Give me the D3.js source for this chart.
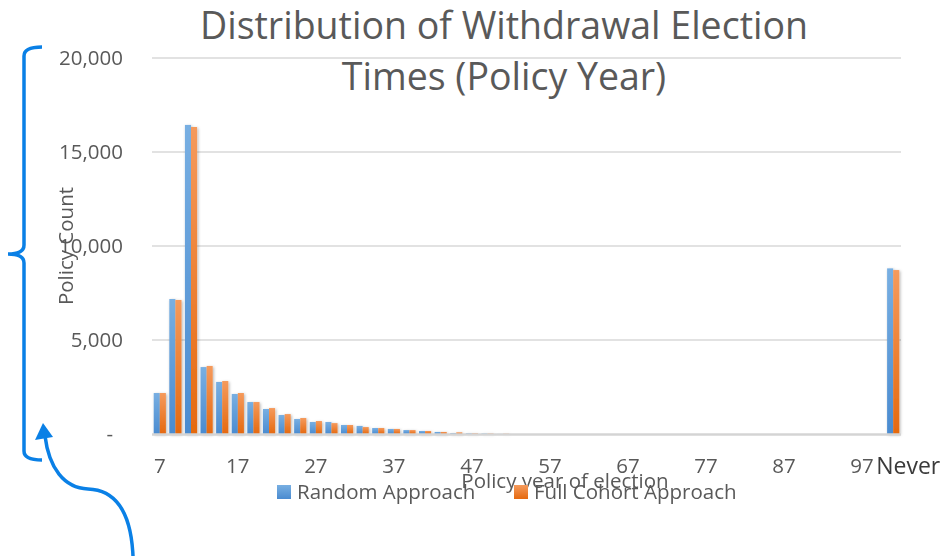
<!DOCTYPE html>
<html>

<head>
    <meta charset="utf-8">
    <style>
        body {
            margin: 0;
            background: #fff;
        }

        svg {
            display: block;
            font-family: 'Open Sans', 'DejaVu Sans', sans-serif;
        }

        .axis text {
            fill: #595959;
            font-size: 20.5px;
        }

        .label {
            fill: #595959;
            font-size: 20.5px;
        }
    </style>
</head>

<body>
    <svg width="942" height="556"></svg>

    <script src="https://d3js.org/d3.v7.min.js"></script>

    <script>
        // policy year of election (every other year) plus the "Never" bucket
        const categories = ["7", "9", "11", "13", "15", "17", "19", "21", "23", "25",
            "27", "29", "31", "33", "35", "37", "39", "41", "43", "45",
            "47", "49", "51", "53", "55", "57", "59", "61", "63", "65",
            "67", "69", "71", "73", "75", "77", "79", "81", "83", "85",
            "87", "89", "91", "93", "95", "97", "99", "Never"]

        const randomApproach = [2180, 7180, 16440, 3560, 2770, 2130, 1700, 1330, 1010, 800,
            640, 640, 480, 430, 320, 270, 210, 160, 110, 50,
            40, 30, 5, 0, 0, 0, 0, 0, 0, 0,
            0, 0, 0, 0, 0, 0, 0, 0, 0, 0,
            0, 0, 0, 0, 0, 0, 0, 8810]

        const fullCohort = [2180, 7130, 16330, 3620, 2820, 2180, 1700, 1380, 1060, 850,
            690, 580, 480, 370, 320, 270, 210, 160, 110, 90,
            40, 30, 20, 0, 0, 0, 0, 0, 0, 0,
            0, 0, 0, 0, 0, 0, 0, 0, 0, 0,
            0, 0, 0, 0, 0, 0, 0, 8720]

        const seriesNames = ["Random Approach", "Full Cohort Approach"]
        const xTickLabels = ["7", "17", "27", "37", "47", "57", "67", "77", "87", "97", "Never"]
        const yTicks = [0, 5000, 10000, 15000, 20000]
        const titleLines = ["Distribution of Withdrawal Election", "Times (Policy Year)"]

        let svg = d3.select("svg")

        let plotLeft = 152, plotRight = 901, plotTop = 58, plotBottom = 434

        let x = d3.scaleBand()
            .domain(categories)
            .range([plotLeft, plotRight])
            .paddingInner(0.22)
            .paddingOuter(0.11)

        let xSeries = d3.scaleBand()
            .domain(seriesNames)
            .range([0, x.bandwidth()])

        let y = d3.scaleLinear()
            .domain([0, 20000])
            .range([plotBottom, plotTop])

        // gradients + soft shadow like the office chart
        let defs = svg.append("defs")
        let grads = [
            { id: "g-blue", a: "#78afe2", b: "#4a8bd0" },
            { id: "g-orange", a: "#f59a5c", b: "#e5690f" }
        ]
        grads.forEach(g => {
            let lg = defs.append("linearGradient")
                .attr("id", g.id)
                .attr("x1", 0).attr("y1", 0).attr("x2", 0).attr("y2", 1)
            lg.append("stop").attr("offset", "0%").attr("stop-color", g.a)
            lg.append("stop").attr("offset", "100%").attr("stop-color", g.b)
        })
        defs.append("filter")
            .attr("id", "shadow")
            .attr("x", "-50%").attr("y", "-10%").attr("width", "200%").attr("height", "120%")
            .append("feDropShadow")
            .attr("dx", 1).attr("dy", 1)
            .attr("stdDeviation", 1.6)
            .attr("flood-color", "#000")
            .attr("flood-opacity", 0.3)

        let color = d3.scaleOrdinal()
            .domain(seriesNames)
            .range(["url(#g-blue)", "url(#g-orange)"])

        // gridlines
        svg.append("g")
            .selectAll("line")
            .data(yTicks.filter(d => d > 0))
            .join("line")
            .attr("x1", plotLeft)
            .attr("x2", plotRight)
            .attr("y1", d => y(d))
            .attr("y2", d => y(d))
            .attr("stroke", "#d9d9d9")
            .attr("stroke-width", 1.5)

        // bars
        let rows = categories.map((c, i) => ({
            cat: c,
            values: [
                { name: seriesNames[0], value: randomApproach[i] },
                { name: seriesNames[1], value: fullCohort[i] }
            ]
        }))

        svg.append("g")
            .attr("filter", "url(#shadow)")
            .selectAll("g")
            .data(rows)
            .join("g")
            .attr("transform", d => `translate(${x(d.cat)},0)`)
            .selectAll("rect")
            .data(d => d.values.filter(v => v.value > 0))
            .join("rect")
            .attr("x", d => xSeries(d.name))
            .attr("width", xSeries.bandwidth())
            .attr("y", d => y(d.value))
            .attr("height", d => y(0) - y(d.value))
            .attr("fill", d => color(d.name))

        // category axis line
        svg.append("line")
            .attr("x1", plotLeft)
            .attr("x2", plotRight)
            .attr("y1", y(0) + 0.5)
            .attr("y2", y(0) + 0.5)
            .attr("stroke", "#d4d4d4")
            .attr("stroke-width", 2.5)

        // y axis labels
        let yAxis = svg.append("g")
            .attr("class", "axis")
            .attr("transform", `translate(${plotLeft},0)`)
            .call(d3.axisLeft(y)
                .tickValues(yTicks)
                .tickSize(0)
                .tickPadding(29)
                .tickFormat(d => d === 0 ? "-" : d3.format(",")(d)))
        yAxis.select(".domain").remove()
        yAxis.attr("font-family", null).attr("font-size", null)
        yAxis.selectAll(".tick").filter(d => d === 0).select("text").attr("dx", -10)

        // x axis labels
        let xAxis = svg.append("g")
            .attr("class", "axis")
            .attr("transform", `translate(0,${plotBottom})`)
            .call(d3.axisBottom(x)
                .tickValues(xTickLabels)
                .tickSize(0)
                .tickPadding(24))
        xAxis.select(".domain").remove()
        xAxis.attr("font-family", null).attr("font-size", null)
        xAxis.selectAll(".tick").filter(d => d === "Never").select("text")
            .attr("x", 15)
            .style("font-size", "23px")
            .style("fill", "#3a3a3a")

        // title
        svg.append("g")
            .selectAll("text")
            .data(titleLines)
            .join("text")
            .attr("x", 504)
            .attr("y", (d, i) => 39 + i * 51)
            .attr("text-anchor", "middle")
            .style("font-size", "37.5px")
            .style("fill", "#595959")
            .text(d => d)

        // axis titles
        svg.append("text")
            .attr("class", "label")
            .attr("transform", "translate(73,246) rotate(-90)")
            .attr("text-anchor", "middle")
            .text("Policy Count")

        svg.append("text")
            .attr("class", "label")
            .attr("x", 565)
            .attr("y", 488)
            .attr("text-anchor", "middle")
            .text("Policy year of election")

        // legend
        let legendX = [277, 514]
        let legend = svg.append("g")
            .selectAll("g")
            .data(seriesNames)
            .join("g")
            .attr("transform", (d, i) => `translate(${legendX[i]},485)`)
        legend.append("rect")
            .attr("width", 14)
            .attr("height", 14)
            .attr("fill", d => color(d))
        legend.append("text")
            .attr("class", "label")
            .attr("x", 20)
            .attr("y", 14)
            .text(d => d)

        // blue hand-drawn annotation: bracket + curved arrow
        let ink = "#0a80e6"
        svg.append("path")
            .attr("d", "M42,47 Q24,47 24,56 L24,245 Q24,254 8,254 Q24,254 24,263 L24,451 Q24,460 42,460")
            .attr("fill", "none")
            .attr("stroke", ink)
            .attr("stroke-width", 3.5)
        svg.append("path")
            .attr("d", "M133,556 C131,512 116,490 88,489 C64,488 49,468 45,436")
            .attr("fill", "none")
            .attr("stroke", ink)
            .attr("stroke-width", 3.5)
        svg.append("path")
            .attr("d", "M43,423 L35,440 L53,437 Z")
            .attr("fill", ink)
    </script>
</body>

</html>
